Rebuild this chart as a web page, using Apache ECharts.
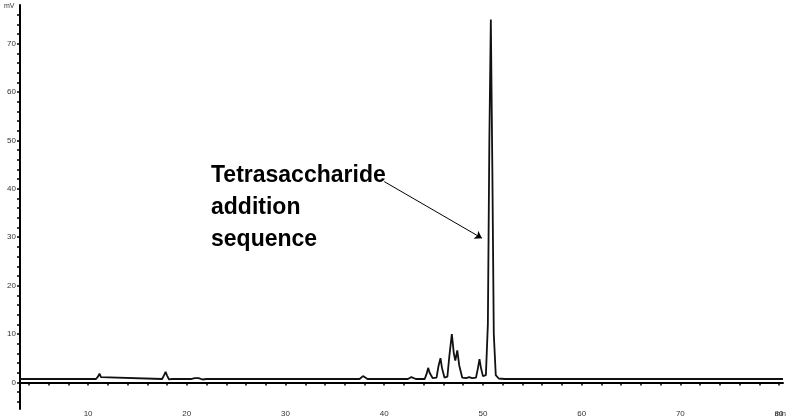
<!DOCTYPE html>
<html lang="en">
<head>
  <meta charset="UTF-8">
  <title>Chromatogram</title>
  <script src="https://cdn.jsdelivr.net/npm/echarts@6/dist/echarts.min.js"></script>
  <style>
    html, body { margin: 0; padding: 0; background: #fff; }
    #chart { width: 788px; height: 418px; }
  </style>
</head>
<body>
  <div id="chart"></div>
<script>
  // retention time (min) / signal (mV)
  let trace = [
    [3.1, 0.7], [10.8, 0.7], [11.0, 1.2], [11.15, 1.8], [11.3, 1.1], [11.5, 0.7],
    [17.5, 0.7], [17.7, 1.5], [17.85, 2.2], [18.0, 1.4], [18.2, 0.6], [18.5, 0.7],
    [20.4, 0.7], [20.8, 0.9], [21.2, 0.9], [21.6, 0.6], [22.0, 0.7],
    [37.5, 0.7], [37.7, 1.1], [37.85, 1.3], [38.0, 1.0], [38.3, 0.7],
    [42.4, 0.7], [42.6, 0.9], [42.75, 1.1], [42.9, 0.9], [43.2, 0.7],
    [44.1, 0.7], [44.3, 1.8], [44.45, 3.0], [44.6, 2.0], [44.9, 0.9],
    [45.3, 1.0], [45.5, 3.4], [45.7, 5.0], [45.85, 3.0], [46.1, 1.0],
    [46.4, 1.2], [46.6, 5.5], [46.85, 10.0], [47.05, 6.0], [47.2, 4.5],
    [47.4, 6.6], [47.6, 3.5], [47.9, 1.0], [48.3, 0.9], [48.6, 1.1],
    [48.9, 0.9], [49.3, 1.0], [49.5, 3.0], [49.65, 4.8], [49.8, 3.0],
    [50.0, 1.3], [50.3, 1.5], [50.5, 12.0], [50.65, 50.0], [50.8, 75.0],
    [50.95, 45.0], [51.1, 10.0], [51.3, 1.5], [51.6, 0.8], [52.2, 0.7],
    [80.4, 0.7]
  ]
  let xTicks = [4, 6, 8, 10, 12, 14, 16, 18, 20, 22, 24, 26, 28, 30, 32, 34, 36, 38, 40,
    42, 44, 46, 48, 50, 52, 54, 56, 58, 60, 62, 64, 66, 68, 70, 72, 74, 76, 78, 80]
  let xLabels = [10, 20, 30, 40, 50, 60, 70, 80]
  let yTicks = [-4, -2, 0, 2, 4, 6, 8, 10, 12, 14, 16, 18, 20, 22, 24, 26, 28, 30, 32, 34, 36, 38,
    40, 42, 44, 46, 48, 50, 52, 54, 56, 58, 60, 62, 64, 66, 68, 70, 72, 74, 76]
  let yLabels = [0, 10, 20, 30, 40, 50, 60, 70]
  let arrowFrom = [40.0, 41.5]
  let arrowTo = [49.9, 29.8]

  let chart = echarts.init(document.getElementById('chart'))
  chart.setOption({
    animation: false,
    grid: { left: 20, right: 5, top: 5, bottom: 9 },
    xAxis: {
      type: 'value', min: 3.1, max: 80.4,
      axisLine: { lineStyle: { color: '#000', width: 2 } },
      axisTick: { customValues: xTicks, length: 3, lineStyle: { color: '#000', width: 1.5 } },
      axisLabel: { customValues: xLabels, fontSize: 8, color: '#333', margin: 1, fontFamily: 'Liberation Sans' },
      splitLine: { show: false }
    },
    yAxis: {
      type: 'value', min: -5.5, max: 78,
      axisLine: { show: true, lineStyle: { color: '#000', width: 2 } },
      axisTick: { show: true, customValues: yTicks, length: 3, lineStyle: { color: '#000', width: 1.5 } },
      axisLabel: { customValues: yLabels, fontSize: 8, color: '#333', margin: 4, fontFamily: 'Liberation Sans' },
      splitLine: { show: false }
    },
    series: [{
      type: 'line',
      data: trace,
      showSymbol: false,
      lineStyle: { color: '#111', width: 1.8 },
      markLine: {
        silent: true,
        symbol: ['none', 'arrow'],
        symbolSize: 7,
        label: { show: false },
        lineStyle: { color: '#000', width: 1, type: 'solid' },
        data: [[{ coord: arrowFrom }, { coord: arrowTo }]]
      }
    }],
    graphic: [
      { type: 'text', left: 4, top: 3, style: { text: 'mV', fontSize: 7, fill: '#333', fontFamily: 'Liberation Sans' } },
      { type: 'text', right: 2, bottom: 0, style: { text: 'min', fontSize: 7, fill: '#333', fontFamily: 'Liberation Sans' } },
      {
        type: 'text', left: 211, top: 160,
        style: {
          text: 'Tetrasaccharide\naddition\nsequence',
          fontSize: 23, fontWeight: 'bold', lineHeight: 32,
          fill: '#000', fontFamily: 'Liberation Sans'
        }
      }
    ]
  })
</script>
</body>
</html>
